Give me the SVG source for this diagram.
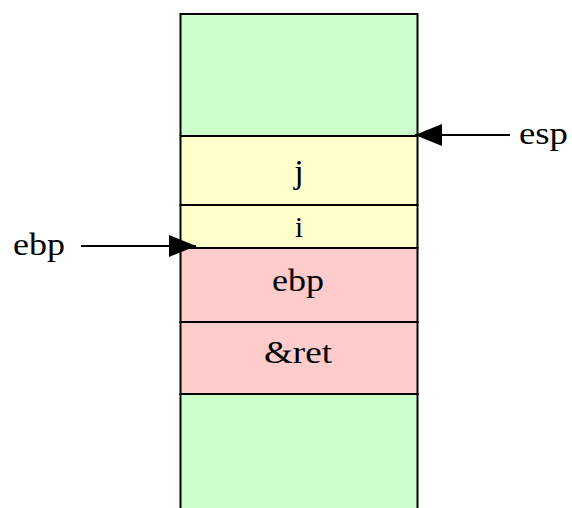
<svg xmlns="http://www.w3.org/2000/svg" width="572" height="508" viewBox="0 0 572 508">
<defs>
<style>
.cell{stroke:#000;stroke-width:2}
.g{fill:#CCFFCC}.y{fill:#FFFFCC}.r{fill:#FFCCCC}
text{font-family:"Liberation Serif","Times New Roman",serif;fill:#000}
.c{text-anchor:middle}
.conn{stroke:#000;stroke-width:2;fill:none}
</style>
<marker id="ah" markerUnits="userSpaceOnUse" markerWidth="27" markerHeight="22" refX="27" refY="11" orient="auto">
<path d="M0,0 L27,11 L0,22 Z" fill="#000"/>
</marker>
</defs>
<g id="cell-top"><rect x="180.5" y="14" width="237" height="122" class="g"/><path class="cell" fill="none" d="M180.5,136 V14 H417.5 V136"/></g>
<g id="cell-bottom"><rect x="180.5" y="394" width="237" height="115" class="g"/><path class="cell" fill="none" d="M180.5,509 V394 H417.5 V509"/></g>
<g id="cell-j"><rect x="180.5" y="136" width="237" height="69" class="cell y"/><text x="299" y="183" font-size="34" class="c">j</text></g>
<g id="cell-i"><rect x="180.5" y="205" width="237" height="43" class="cell y"/><text x="299" y="237" font-size="29" class="c">i</text></g>
<g id="cell-ebp"><rect x="180.5" y="248" width="237" height="74" class="cell r"/><text x="298" y="291" font-size="32" class="c" textLength="52" lengthAdjust="spacingAndGlyphs">ebp</text></g>
<g id="cell-ret"><rect x="180.5" y="322" width="237" height="72" class="cell r"/><text x="298" y="363" font-size="32" class="c" textLength="68" lengthAdjust="spacingAndGlyphs">&amp;ret</text></g>
<g id="label-ebp"><text x="13" y="255" font-size="32" textLength="52" lengthAdjust="spacingAndGlyphs">ebp</text></g>
<g id="label-esp"><text x="519" y="144" font-size="32" textLength="49" lengthAdjust="spacingAndGlyphs">esp</text></g>
<g id="connectors">
<line class="conn" x1="81" y1="246" x2="196" y2="246" marker-end="url(#ah)"/>
<line class="conn" x1="510" y1="135" x2="415" y2="135" marker-end="url(#ah)"/>
</g>
</svg>
